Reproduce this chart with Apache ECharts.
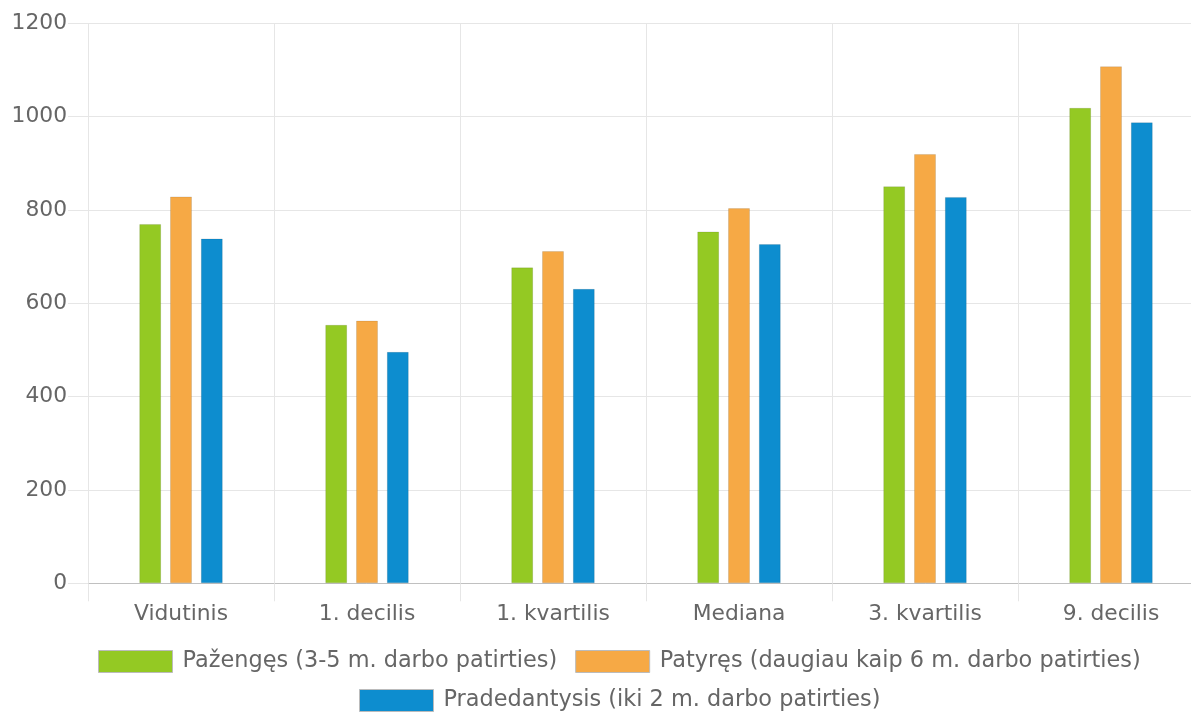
<!DOCTYPE html>
<html>
<head>
<meta charset="utf-8">
<script src="https://cdn.jsdelivr.net/npm/echarts@6/dist/echarts.min.js"></script>
<style>
html,body{margin:0;padding:0;background:#fff;overflow:hidden;width:1191px;height:712px;}
#chart{width:1204px;height:712px;}
</style>
</head>
<body>
<div id="chart"></div>
<script>
const categories = ['Vidutinis', '1. decilis', '1. kvartilis', 'Mediana', '3. kvartilis', '9. decilis'];
const seriesNames = [
  'Pažengęs (3-5 m. darbo patirties)',
  'Patyręs (daugiau kaip 6 m. darbo patirties)',
  'Pradedantysis (iki 2 m. darbo patirties)'
];
const pazenges = [770, 554, 677, 754, 851, 1019];
const patyres = [829, 563, 712, 804, 920, 1108];
const pradedantysis = [739, 496, 631, 727, 828, 988];
const colors = ['#94c923', '#f6a945', '#0d8dcf'];
const yTicks = [0, 200, 400, 600, 800, 1000, 1200];

const font = 'DejaVu Sans';
const textColor = '#666666';
const chart = echarts.init(document.getElementById('chart'), null, {renderer: 'canvas'});

function bar(name, data, color) {
  return {
    name: name,
    type: 'bar',
    data: data,
    barWidth: 22,
    barGap: '40%',
    itemStyle: {color: color, borderColor: 'rgba(0,0,0,0.1)', borderWidth: 1},
    emphasis: {disabled: true}
  };
}

const legendCommon = {
  orient: 'horizontal',
  padding: 0,
  itemWidth: 74,
  itemHeight: 22,
  itemGap: 18,
  icon: 'rect',
  textStyle: {fontFamily: font, fontSize: 22.4, color: textColor, padding: [0, 0, 0, 5]},
  itemStyle: {borderColor: '#bbbbbb', borderWidth: 1}
};

chart.setOption({
  animation: false,
  backgroundColor: '#ffffff',
  color: colors,
  grid: {left: 88, top: 23.3, right: 0, height: 560, containLabel: false},
  legend: [
    Object.assign({}, legendCommon, {data: [seriesNames[0], seriesNames[1]], left: 98, top: 650}),
    Object.assign({}, legendCommon, {data: [seriesNames[2]], left: 359, top: 689})
  ],
  xAxis: {
    type: 'category',
    data: categories,
    boundaryGap: true,
    axisLine: {show: true, lineStyle: {color: '#c0c0c0', width: 1}},
    axisTick: {show: true, length: 18, lineStyle: {color: '#e6e6e6'}},
    splitLine: {show: true, lineStyle: {color: '#e6e6e6', width: 1}},
    axisLabel: {fontFamily: font, fontSize: 21.8, color: textColor, margin: 20}
  },
  yAxis: {
    type: 'value',
    min: 0,
    max: 1200,
    interval: 200,
    axisLine: {show: false},
    axisTick: {show: true, length: 20, lineStyle: {color: '#e6e6e6'}},
    splitLine: {show: true, lineStyle: {color: '#e6e6e6', width: 1}},
    axisLabel: {fontFamily: font, fontSize: 21.8, color: textColor, margin: 21,
      formatter: function (v) { return yTicks.indexOf(v) >= 0 ? String(v) : ''; }}
  },
  series: [
    bar(seriesNames[0], pazenges, colors[0]),
    bar(seriesNames[1], patyres, colors[1]),
    bar(seriesNames[2], pradedantysis, colors[2])
  ]
});
</script>
</body>
</html>
